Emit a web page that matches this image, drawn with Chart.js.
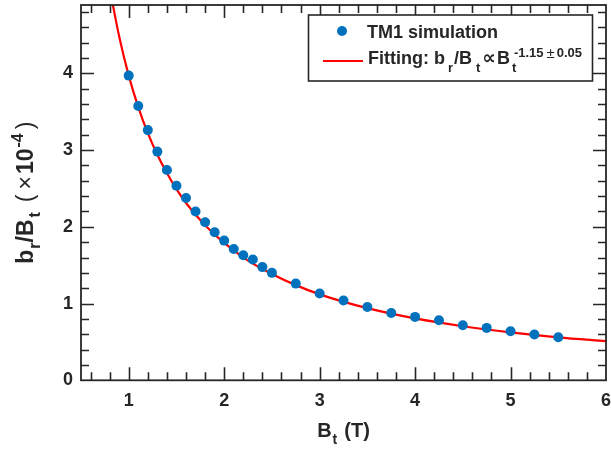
<!DOCTYPE html>
<html><head><meta charset="utf-8">
<script src="https://cdn.jsdelivr.net/npm/chart.js@4/dist/chart.umd.min.js"></script>
<style>html,body{margin:0;padding:0;background:#fff}#wrap{width:611px;height:452px;position:relative}</style>
</head><body><div id="wrap"><canvas id="c" width="611" height="452"></canvas></div>
<script>
// ---- data ----
const simBt    = [1.0, 1.1, 1.2, 1.3, 1.4, 1.5, 1.6, 1.7, 1.8, 1.9, 2.0, 2.1, 2.2, 2.3, 2.4, 2.5, 2.75, 3.0, 3.25, 3.5, 3.75, 4.0, 4.25, 4.5, 4.75, 5.0, 5.25, 5.5];
const simRatio = [3.97, 3.575, 3.26, 2.98, 2.74, 2.536, 2.376, 2.20, 2.06, 1.93, 1.82, 1.71, 1.63, 1.575, 1.475, 1.40, 1.26, 1.13, 1.04, 0.956, 0.878, 0.826, 0.783, 0.718, 0.683, 0.640, 0.597, 0.562];
const fitBt    = [0.82, 0.9, 1.0, 1.1, 1.2, 1.3, 1.4, 1.5, 1.6, 1.8, 2.0, 2.25, 2.5, 2.75, 3.0, 3.5, 4.0, 4.5, 5.0, 5.5, 6.0];
const fitRatio = [4.98, 4.48, 3.97, 3.56, 3.22, 2.94, 2.70, 2.49, 2.31, 2.02, 1.79, 1.56, 1.385, 1.24, 1.12, 0.94, 0.806, 0.704, 0.624, 0.56, 0.51];
const xTickLabels = [1, 2, 3, 4, 5, 6];
const yTickLabels = [0, 1, 2, 3, 4];
const xRange = [0.5, 6];
const yRange = [0, 4.89];
const seriesNames = ['TM1 simulation', 'Fitting'];

const FONT = '"Liberation Sans", Arial, Helvetica, sans-serif';
const INK = '#262626';
const BLUE = '#0072BD';
const RED = '#FF0000';

function drawRich(ctx, parts, x, y, align) {
  let pos = [];
  let cur = 0, maxEnd = 0;
  for (const p of parts) {
    ctx.font = (p.weight || 'bold') + ' ' + p.size + 'px ' + (p.family || FONT);
    const mw = ctx.measureText(p.t).width;
    cur += (p.gapBefore || 0);
    pos.push(cur);
    maxEnd = Math.max(maxEnd, cur + mw);
    if (p.adv !== false) cur += mw;
  }
  const w = Math.max(cur, maxEnd);
  const x0 = align === 'center' ? x - w / 2 : (align === 'right' ? x - w : x);
  ctx.textAlign = 'left';
  ctx.textBaseline = 'alphabetic';
  parts.forEach((p, i) => {
    ctx.font = (p.weight || 'bold') + ' ' + p.size + 'px ' + (p.family || FONT);
    ctx.fillStyle = p.color || INK;
    ctx.fillText(p.t, x0 + pos[i], y + (p.dy || 0));
  });
  return w;
}

const decorPlugin = {
  id: 'decor',
  afterDraw(chart) {
    const ctx = chart.ctx;
    const a = chart.chartArea;
    const xs = chart.scales.x, ys = chart.scales.y;
    ctx.save();
    // frame
    ctx.strokeStyle = INK;
    ctx.lineWidth = 1.8;
    ctx.strokeRect(a.left, a.top, a.right - a.left, a.bottom - a.top);
    // ticks (inward, all four sides)
    const MAJ = 13, MIN = 8;
    ctx.lineWidth = 1.6;
    ctx.beginPath();
    for (let v = 0.6; v < 6.0 - 1e-6; v += 0.2) {
      const isMaj = Math.abs(v - Math.round(v)) < 1e-6;
      const L = isMaj ? MAJ : MIN;
      const px = Math.round(xs.getPixelForValue(v)) + 0.5;
      ctx.moveTo(px, a.bottom); ctx.lineTo(px, a.bottom - L);
      ctx.moveTo(px, a.top); ctx.lineTo(px, a.top + L);
    }
    for (let v = 0.2; v < yRange[1] - 1e-6; v += 0.2) {
      const isMaj = Math.abs(v - Math.round(v)) < 1e-6;
      const L = isMaj ? MAJ : MIN;
      const py = Math.round(ys.getPixelForValue(v)) + 0.5;
      ctx.moveTo(a.left, py); ctx.lineTo(a.left + L, py);
      ctx.moveTo(a.right, py); ctx.lineTo(a.right - L, py);
    }
    ctx.stroke();

    // x axis title: B_t (T)
    drawRich(ctx, [
      {t: 'B', size: 20},
      {t: 't', size: 14, dy: 7, gapBefore: 1},
      {t: '(T)', size: 20, gapBefore: 7}
    ], (a.left + a.right) / 2, 437, 'center');

    // y axis title: b_r/B_t (×10^-4)
    ctx.save();
    ctx.translate(33, (a.top + a.bottom) / 2);
    ctx.rotate(-Math.PI / 2);
    drawRich(ctx, [
      {t: 'b', size: 23},
      {t: 'r', size: 16, dy: 7, gapBefore: 1},
      {t: '/B', size: 23},
      {t: 't', size: 16, dy: 7, gapBefore: 2},
      {t: '(', size: 23, weight: 'normal', gapBefore: 10},
      {t: '×', size: 23, weight: 'normal', gapBefore: 5},
      {t: '10', size: 23, gapBefore: 2},
      {t: '-4', size: 16, dy: -10, gapBefore: 1},
      {t: ')', size: 23, weight: 'normal', gapBefore: 4}
    ], 0, 0, 'center');
    ctx.restore();

    // legend
    const bx = 308.5, by = 15, bw = 284, bh = 66;
    ctx.fillStyle = '#fff';
    ctx.fillRect(bx, by, bw, bh);
    ctx.strokeStyle = INK;
    ctx.lineWidth = 1.6;
    ctx.strokeRect(bx, by, bw, bh);
    // entry 1
    ctx.fillStyle = BLUE;
    ctx.beginPath(); ctx.arc(342, 31, 5, 0, Math.PI * 2); ctx.fill();
    drawRich(ctx, [{t: seriesNames[0], size: 18}], 367, 37.5, 'left');
    // entry 2
    ctx.strokeStyle = RED; ctx.lineWidth = 2.2;
    ctx.beginPath(); ctx.moveTo(323, 61); ctx.lineTo(363, 61); ctx.stroke();
    drawRich(ctx, [
      {t: seriesNames[1] + ': b', size: 18},
      {t: 'r', size: 13, dy: 8, gapBefore: 3},
      {t: '/B', size: 18, gapBefore: 1},
      {t: 't', size: 13, dy: 8, gapBefore: 4},
      {t: '∝', size: 19, weight: 'bold', family: '"DejaVu Sans", sans-serif', gapBefore: 2},
      {t: 'B', size: 18, gapBefore: 1},
      {t: 't', size: 13, dy: 8, adv: false, gapBefore: 2},
      {t: '-1.15', size: 13, dy: -7, gapBefore: 2},
      {t: '±', size: 15, weight: 'normal', dy: -6, gapBefore: 3},
      {t: '0.05', size: 13, dy: -7, gapBefore: 2}
    ], 368, 64, 'left');
    ctx.restore();
  }
};

new Chart(document.getElementById('c'), {
  type: 'scatter',
  data: {
    datasets: [
      {
        label: seriesNames[0],
        data: simBt.map((x, i) => ({x, y: simRatio[i]})),
        backgroundColor: BLUE,
        borderColor: BLUE,
        pointRadius: 5,
        pointBorderWidth: 0,
        showLine: false,
        order: 0
      },
      {
        label: seriesNames[1],
        data: fitBt.map((x, i) => ({x, y: fitRatio[i]})),
        borderColor: RED,
        backgroundColor: RED,
        borderWidth: 2.2,
        pointRadius: 0,
        showLine: true,
        cubicInterpolationMode: 'monotone',
        order: 1
      }
    ]
  },
  options: {
    responsive: false,
    animation: false,
    devicePixelRatio: 1,
    layout: {padding: {left: 0, right: 4.3, top: 4, bottom: 0}},
    plugins: {legend: {display: false}, tooltip: {enabled: false}, title: {display: false}},
    scales: {
      x: {
        type: 'linear', min: xRange[0], max: xRange[1],
        afterBuildTicks: s => { s.ticks = xTickLabels.map(v => ({value: v})); },
        afterFit: s => { s.height = 71.7; s.paddingLeft = 0; s.paddingRight = 0; },
        ticks: {font: {family: FONT, size: 18, weight: 'bold'}, color: INK, padding: 10, maxRotation: 0, autoSkip: false,
                callback: v => String(v)},
        grid: {display: false, drawTicks: false},
        border: {display: false}
      },
      y: {
        type: 'linear', min: yRange[0], max: yRange[1],
        afterBuildTicks: s => { s.ticks = yTickLabels.map(v => ({value: v})); },
        afterFit: s => { s.width = 81; s.paddingTop = 0; s.paddingBottom = 0; },
        ticks: {font: {family: FONT, size: 18, weight: 'bold'}, color: INK, padding: 8, autoSkip: false,
                callback: v => String(v)},
        grid: {display: false, drawTicks: false},
        border: {display: false}
      }
    }
  },
  plugins: [decorPlugin]
});
</script></body></html>
